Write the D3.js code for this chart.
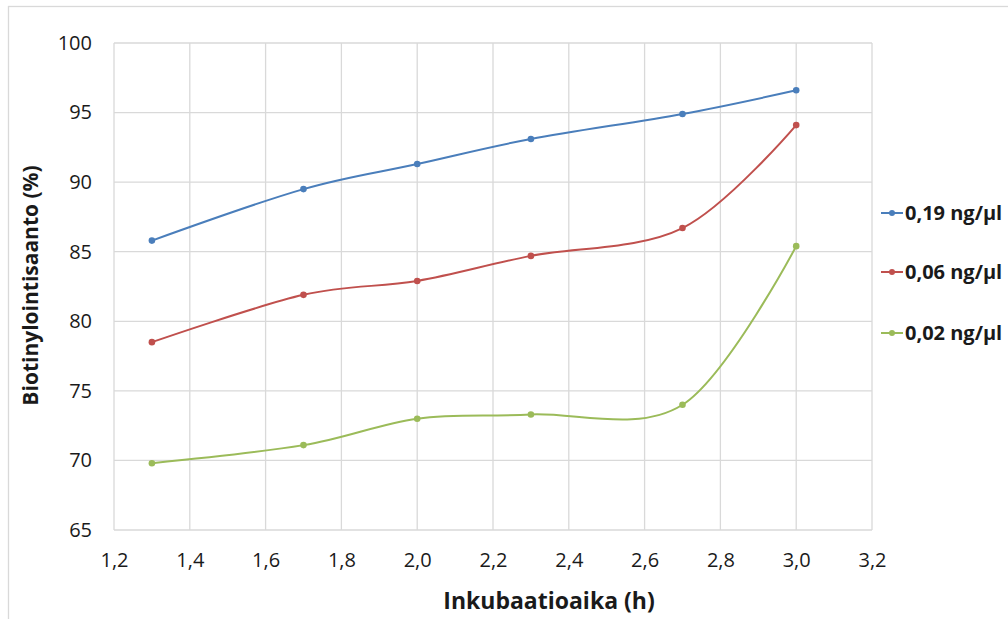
<!DOCTYPE html>
<html>
<head>
<meta charset="utf-8">
<script src="https://cdn.jsdelivr.net/npm/d3@7"></script>
<style>
  html, body { margin: 0; padding: 0; background: #fff; }
  svg { display: block; font-family: "Open Sans", "Noto Sans", sans-serif; }
</style>
</head>
<body>
<svg id="chart" width="1008" height="619"></svg>
<script>
// Incubation time (h) on the x axis
const times = [1.3, 1.7, 2.0, 2.3, 2.7, 3.0];

// Biotinylation yield (%) per concentration
const seriesNames = ["0,19 ng/µl", "0,06 ng/µl", "0,02 ng/µl"];
const yield019 = [85.8, 89.5, 91.3, 93.1, 94.9, 96.6];
const yield006 = [78.5, 81.9, 82.9, 84.7, 86.7, 94.1];
const yield002 = [69.8, 71.1, 73.0, 73.3, 74.0, 85.4];
const seriesColors = ["#4a7ebb", "#c0504d", "#9bbb59"];

const xTicks = [1.2, 1.4, 1.6, 1.8, 2.0, 2.2, 2.4, 2.6, 2.8, 3.0, 3.2];
const yTicks = [65, 70, 75, 80, 85, 90, 95, 100];

const xTitle = "Inkubaatioaika (h)";
const yTitle = "Biotinylointisaanto (%)";

const svg = d3.select("#chart");
const W = 1008, H = 619;
const plot = { left: 114, right: 872, top: 43, bottom: 530 };

// outer chart frame
svg.append("rect")
  .attr("x", 8.5).attr("y", 6.5)
  .attr("width", W + 20).attr("height", H + 20)
  .attr("fill", "#fff").attr("stroke", "#d9d9d9").attr("stroke-width", 1.3);

const x = d3.scaleLinear().domain([1.2, 3.2]).range([plot.left, plot.right]);
const y = d3.scaleLinear().domain([65, 100]).range([plot.bottom, plot.top]);

const fmt = d3.format(".1f");
const comma = v => fmt(v).replace(".", ",");

// gridlines
const grid = svg.append("g").attr("stroke", "#d9d9d9").attr("stroke-width", 1.3);
grid.selectAll("line.v").data(xTicks).join("line")
  .attr("x1", d => x(d)).attr("x2", d => x(d))
  .attr("y1", plot.top).attr("y2", plot.bottom);
grid.selectAll("line.h").data(yTicks).join("line")
  .attr("x1", plot.left).attr("x2", plot.right)
  .attr("y1", d => y(d)).attr("y2", d => y(d));

// axes (labels only; lines come from the grid)
const xAxis = svg.append("g")
  .attr("transform", `translate(0,${plot.bottom})`)
  .call(d3.axisBottom(x).tickValues(xTicks).tickFormat(comma).tickSize(0).tickPadding(23));
const yAxis = svg.append("g")
  .attr("transform", `translate(${plot.left},0)`)
  .call(d3.axisLeft(y).tickValues(yTicks).tickFormat(d3.format("d")).tickSize(0).tickPadding(22));
[xAxis, yAxis].forEach(g => {
  g.select(".domain").remove();
  g.selectAll("text").attr("font-size", 20).attr("fill", "#1a1a1a")
    .attr("font-family", "'Open Sans', sans-serif");
});

// smoothed series lines with markers
const allSeries = [yield019, yield006, yield002];
const line = d3.line()
  .x((d, i) => x(times[i]))
  .y(d => y(d))
  .curve(d3.curveCatmullRom.alpha(0));

allSeries.forEach((vals, s) => {
  svg.append("path").datum(vals)
    .attr("d", line)
    .attr("fill", "none")
    .attr("stroke", seriesColors[s])
    .attr("stroke-width", 2);
  svg.append("g").selectAll("circle").data(vals).join("circle")
    .attr("cx", (d, i) => x(times[i]))
    .attr("cy", d => y(d))
    .attr("r", 3.3)
    .attr("fill", seriesColors[s]);
});

// axis titles
svg.append("text")
  .attr("x", 549).attr("y", 609)
  .attr("text-anchor", "middle")
  .attr("font-size", 23).attr("font-weight", "bold").attr("fill", "#1a1a1a")
  .text(xTitle);
svg.append("text")
  .attr("transform", `translate(38,${(plot.top + plot.bottom) / 2 - 1}) rotate(-90)`)
  .attr("text-anchor", "middle")
  .attr("font-size", 21).attr("font-weight", "bold").attr("fill", "#1a1a1a")
  .text(yTitle);

// legend
const legend = svg.append("g");
const legendY = [213, 272, 333];
seriesNames.forEach((name, s) => {
  const g = legend.append("g").attr("transform", `translate(881,${legendY[s]})`);
  g.append("line").attr("x1", 0).attr("x2", 22).attr("y1", 0).attr("y2", 0)
    .attr("stroke", seriesColors[s]).attr("stroke-width", 2);
  g.append("circle").attr("cx", 11).attr("cy", 0).attr("r", 3).attr("fill", seriesColors[s]);
  g.append("text").attr("x", 24).attr("y", 0).attr("dy", "0.35em")
    .attr("font-size", 20).attr("font-weight", "bold").attr("fill", "#1a1a1a")
    .text(name);
});
</script>
</body>
</html>
